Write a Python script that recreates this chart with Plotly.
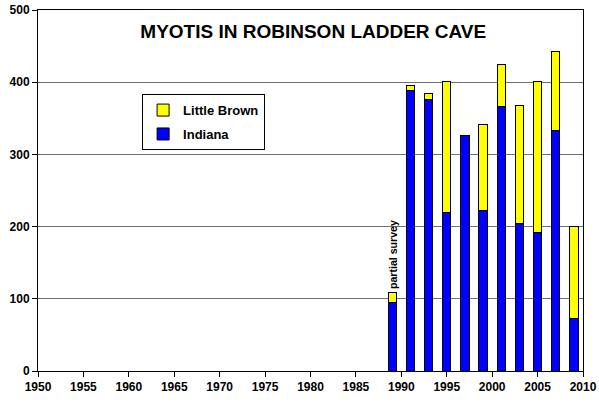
import plotly.graph_objects as go

years = [1989, 1991, 1993, 1995, 1997, 1999, 2001, 2003, 2005, 2007, 2009]
indiana = [95, 388, 376, 219, 326, 222, 366, 204, 192, 333, 73]
little_brown = [14, 8, 8, 182, 0, 120, 58, 164, 209, 109, 127]

TITLE = "MYOTIS IN ROBINSON LADDER CAVE"
FONT = "Liberation Sans, Arial, sans-serif"
TICK_FONT = dict(family=FONT, size=12, color="black", weight="bold")

fig = go.Figure()

fig.add_trace(
    go.Bar(
        x=years,
        y=indiana,
        name="Indiana",
        legendgroup="indiana",
        legendrank=2,
        width=0.92,
        marker=dict(color="#0000FF", line=dict(color="black", width=1)),
    )
)
fig.add_trace(
    go.Bar(
        x=years,
        y=little_brown,
        name="Little Brown",
        legendgroup="little_brown",
        legendrank=1,
        width=0.92,
        marker=dict(color="#FFFF00", line=dict(color="black", width=1)),
    )
)

fig.add_annotation(
    x=years[0],
    y=indiana[0] + little_brown[0],
    xref="x",
    yref="y",
    text="partial survey",
    textangle=-90,
    showarrow=False,
    yanchor="bottom",
    xshift=1,
    yshift=1,
    font=dict(family=FONT, size=10.6, color="black", weight="bold"),
)

fig.update_layout(
    barmode="stack",
    width=599,
    height=402,
    margin=dict(l=38, r=16, t=10, b=31, autoexpand=False),
    paper_bgcolor="white",
    plot_bgcolor="white",
    font=dict(family=FONT, size=12, color="black", weight="bold"),
    title=dict(
        text=TITLE,
        x=0.523,
        xanchor="center",
        y=0.922,
        yanchor="middle",
        font=dict(family=FONT, size=19, color="black", weight="bold"),
    ),
    legend=dict(
        x=0.191,
        y=0.767,
        xanchor="left",
        yanchor="top",
        traceorder="grouped",
        tracegroupgap=4,
        bgcolor="white",
        bordercolor="black",
        borderwidth=1,
        font=dict(family=FONT, size=13, color="black", weight="bold"),
        itemwidth=30,
    ),
    showlegend=True,
)

fig.update_xaxes(
    range=[1950, 2010],
    tickmode="linear",
    tick0=1950,
    dtick=5,
    ticks="outside",
    ticklen=5,
    tickcolor="black",
    tickfont=TICK_FONT,
    tickprefix="<b>",
    ticksuffix="</b>",
    showgrid=False,
    showline=True,
    linecolor="black",
    linewidth=1,
    mirror=True,
    zeroline=False,
    automargin=False,
)
fig.update_yaxes(
    range=[0, 500],
    tickmode="linear",
    tick0=0,
    dtick=100,
    ticks="outside",
    ticklen=5,
    tickcolor="black",
    tickfont=TICK_FONT,
    tickprefix="<b>",
    ticksuffix="</b>",
    showgrid=True,
    gridcolor="#707070",
    gridwidth=1,
    showline=True,
    linecolor="black",
    linewidth=1,
    mirror=True,
    zeroline=False,
    automargin=False,
)

# the page body has a default 8px margin; drop it so the figure sits at 0,0
fig.write_html(
    "out.html",
    config={"displayModeBar": False},
    post_script="document.body.style.margin = '0';",
)
